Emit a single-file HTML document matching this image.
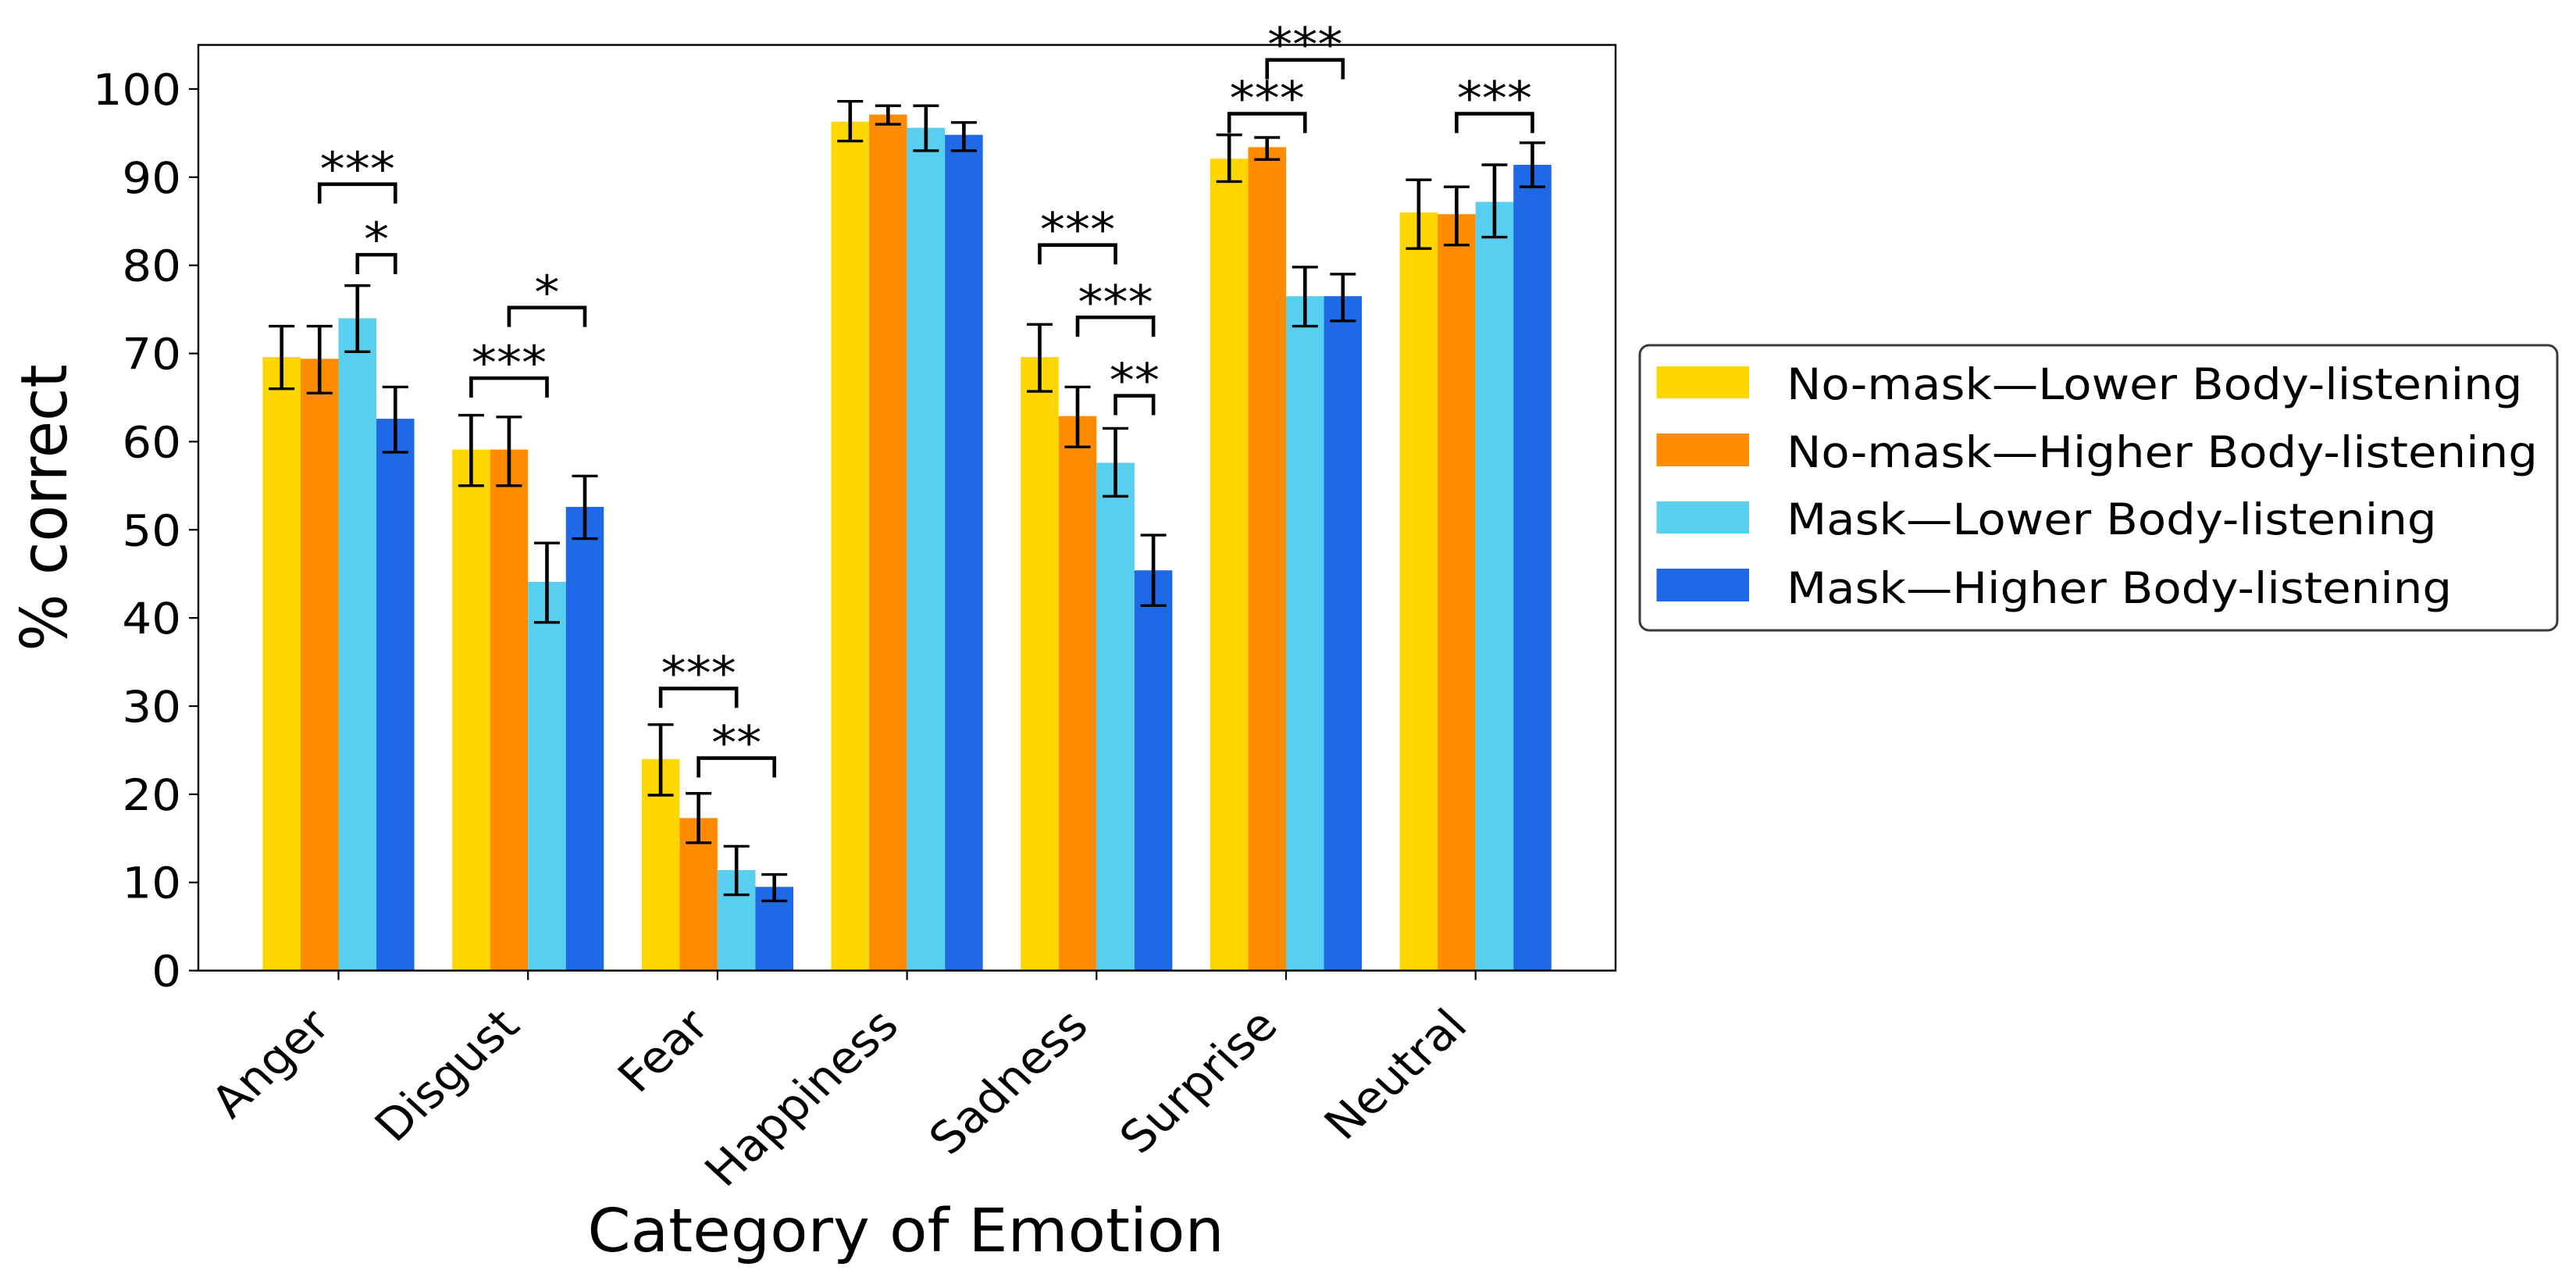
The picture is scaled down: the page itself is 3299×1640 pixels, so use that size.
<!DOCTYPE html>
<html>
<head>
<meta charset="utf-8">
<title>% correct by category of emotion</title>
<style>
html,body{margin:0;padding:0;background:#fff;}
svg{display:block;}
text{font-family:"DejaVu Sans","Liberation Sans",sans-serif;fill:#000;}
</style>
</head>
<body>
<svg id="chart" xmlns="http://www.w3.org/2000/svg" width="3299" height="1640" viewBox="0 0 3299 1640">
  <rect x="0" y="0" width="3299" height="1640" fill="#fff"/>
  <g id="marks"></g>
  <g id="axes"></g>
  <text transform="translate(85 650) scale(1.07 1) rotate(-90)" font-size="77" text-anchor="middle">% correct</text>
  <text transform="translate(1160 1602) scale(1.028 1)" font-size="77" text-anchor="middle">Category of Emotion</text>
  <g>
    <rect x="2100" y="442" width="1175" height="365" rx="12" ry="12" fill="#fff" stroke="#3a3a3a" stroke-width="3"/>
    <rect x="2121.5" y="469" width="118.5" height="41" fill="#FFD700"/>
    <rect x="2121.5" y="555" width="118.5" height="42" fill="#FF8C00"/>
    <rect x="2121.5" y="642" width="118.5" height="41" fill="#58CFEE"/>
    <rect x="2121.5" y="728" width="118.5" height="42" fill="#1F69E6"/>
    <text transform="translate(2288 511) scale(1.07 1)" font-size="55.5">No-mask—Lower Body-listening</text>
    <text transform="translate(2288 598) scale(1.07 1)" font-size="55.5">No-mask—Higher Body-listening</text>
    <text transform="translate(2288 684) scale(1.07 1)" font-size="55.5">Mask—Lower Body-listening</text>
    <text transform="translate(2288 772) scale(1.07 1)" font-size="55.5">Mask—Higher Body-listening</text>
  </g>
</svg>
<script>
// ---- Chart data ----
const categories = ["Anger","Disgust","Fear","Happiness","Sadness","Surprise","Neutral"];
const seriesNames = ["No-mask Lower","No-mask Higher","Mask Lower","Mask Higher"];
const noMaskLower  = [69.6, 59.1, 24.0, 96.3, 69.6, 92.1, 86.0];
const noMaskHigher = [69.4, 59.1, 17.3, 97.1, 62.9, 93.4, 85.8];
const maskLower    = [74.0, 44.1, 11.4, 95.6, 57.6, 76.5, 87.2];
const maskHigher   = [62.6, 52.6,  9.5, 94.8, 45.4, 76.5, 91.4];
const noMaskLowerErrLow   = [66.0, 55.0, 19.9, 94.1, 65.7, 89.5, 81.9];
const noMaskLowerErrHigh  = [73.1, 63.0, 27.9, 98.6, 73.3, 94.8, 89.7];
const noMaskHigherErrLow  = [65.5, 55.0, 14.5, 96.0, 59.4, 92.0, 82.3];
const noMaskHigherErrHigh = [73.1, 62.8, 20.1, 98.1, 66.2, 94.5, 88.9];
const maskLowerErrLow     = [70.2, 39.5,  8.6, 93.0, 53.8, 73.1, 83.2];
const maskLowerErrHigh    = [77.7, 48.5, 14.1, 98.1, 61.5, 79.8, 91.4];
const maskHigherErrLow    = [58.8, 49.0,  7.9, 93.0, 41.4, 73.7, 88.9];
const maskHigherErrHigh   = [66.2, 56.1, 10.9, 96.2, 49.4, 79.0, 93.9];
const yTickLabels = [0,10,20,30,40,50,60,70,80,90,100];
// category index, first bar, last bar, bracket height, stars
const sigCategory = [0, 0, 1, 1, 2, 2, 4, 4, 4, 5, 5, 6];
const sigFromBar  = [1, 2, 0, 1, 0, 1, 0, 1, 2, 0, 1, 1];
const sigToBar    = [3, 3, 2, 3, 2, 3, 2, 3, 3, 2, 3, 3];
const sigHeight   = [89.2, 81.2, 67.2, 75.2, 32.0, 24.1, 82.3, 74.1, 65.2, 97.2, 103.3, 97.2];
const sigStars    = ["***","*","***","*","***","**","***","***","**","***","***","***"];

// ---- Layout ----
const NS = "http://www.w3.org/2000/svg";
const plotLeft = 254, plotRight = 2069, plotTop = 57.5, plotBottom = 1242.6;
const yMax = 105, catStep = 242.7, firstTick = 433.5, barUnits = 0.2;
const seriesValues = [noMaskLower, noMaskHigher, maskLower, maskHigher];
const seriesLow = [noMaskLowerErrLow, noMaskHigherErrLow, maskLowerErrLow, maskHigherErrLow];
const seriesHigh = [noMaskLowerErrHigh, noMaskHigherErrHigh, maskLowerErrHigh, maskHigherErrHigh];
const seriesColors = ["#FFD700","#FF8C00","#58CFEE","#1F69E6"];

function yScale(v){ return plotBottom - v / yMax * (plotBottom - plotTop); }
function xScale(i){ return firstTick + catStep * i; }
function barWidth(){ return catStep * barUnits; }
function barCenter(cat, s){ return xScale(cat) + (s - 1.5) * barWidth(); }

function make(tag, attrs, parent){
  const el = document.createElementNS(NS, tag);
  for (const k in attrs) el.setAttribute(k, attrs[k]);
  parent.appendChild(el);
  return el;
}
const marks = document.getElementById("marks");
const axes = document.getElementById("axes");

// Bars
seriesValues.forEach(function(vals, s){
  vals.forEach(function(v, c){
    const el = make("rect", {x: barCenter(c, s) - barWidth() / 2, y: yScale(v), width: barWidth(), height: plotBottom - yScale(v), fill: seriesColors[s]}, marks);
    
    
  });
});

// Error bars
seriesValues.forEach(function(vals, s){
  vals.forEach(function(v, c){
    const cx = barCenter(c, s);
    const hi = yScale(seriesHigh[s][c]);
    const lo = yScale(seriesLow[s][c]);
    const capHalf = 16.5;
    const stem = make("line", {x1: cx, x2: cx, y1: hi, y2: lo, stroke: "#000", "stroke-width": 4.6}, marks);
    
    
    const caps = make("path", {d: "M" + (cx - capHalf) + " " + hi + "H" + (cx + capHalf) + "M" + (cx - capHalf) + " " + lo + "H" + (cx + capHalf), fill: "none", stroke: "#000", "stroke-width": 3.4}, marks);
    
    
  });
});

// Significance brackets
sigHeight.forEach(function(h, i){
  const x0 = barCenter(sigCategory[i], sigFromBar[i]);
  const x1 = barCenter(sigCategory[i], sigToBar[i]);
  const top = yScale(h);
  const bot = yScale(h - 2.2);
  const br = make("path", {d: "M" + x0 + " " + bot + "V" + top + "H" + x1 + "V" + bot, fill: "none", stroke: "#000", "stroke-width": 4.6}, marks);
  
  
  const st = make("text", {transform: "translate(" + (x0 + x1) / 2 + " " + (top + 1) + ") scale(1.07 1)", "font-size": 60, "text-anchor": "middle"}, marks);
  
  
  st.textContent = sigStars[i];
});

// Frame
const frame = make("rect", {x: plotLeft, y: plotTop, width: plotRight - plotLeft, height: plotBottom - plotTop, fill: "none", stroke: "#000", "stroke-width": 2.4}, axes);



// Y ticks
yTickLabels.forEach(function(t){
  const y = yScale(t);
  const tk = make("line", {x1: plotLeft - 12, x2: plotLeft, y1: y, y2: y, stroke: "#000", "stroke-width": 2.2}, axes);
  
  
  const lb = make("text", {transform: "translate(232 " + (y + 20) + ") scale(1.07 1)", "font-size": 55.5, "text-anchor": "end"}, axes);
  
  
  lb.textContent = t;
});

// X ticks
categories.forEach(function(name, c){
  const x = xScale(c);
  const tk = make("line", {x1: x, x2: x, y1: plotBottom, y2: plotBottom + 12, stroke: "#000", "stroke-width": 2.2}, axes);
  
  
  const lb = make("text", {transform: "translate(" + (x - 8) + " 1316) scale(1.09 1) rotate(-45)", "font-size": 56, "text-anchor": "end"}, axes);
  
  
  lb.textContent = name;
});
</script>
</body>
</html>
